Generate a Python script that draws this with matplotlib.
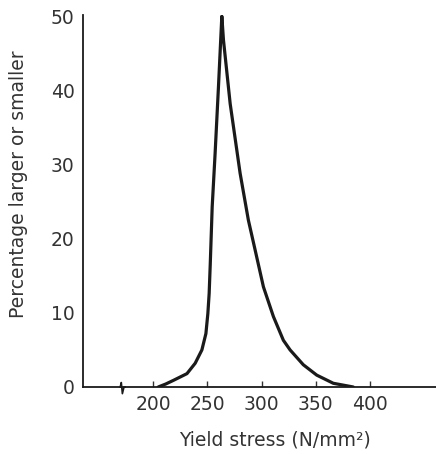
import matplotlib.pyplot as plt

# yield stress distribution
stress = [204.6, 211.5, 218.7, 231.1, 238.7, 244.9, 248.6, 250.4, 251.6, 252.6, 254.4, 257.1, 260.2, 263.3,
          264.8, 271.0, 280.2, 287.8, 294.0, 301.7, 310.9, 320.1, 326.3, 338.5, 350.9, 366.2, 384.6]
percent = [0, 0.4, 0.9, 1.8, 3.2, 5.0, 7.2, 9.9, 12.6, 16.5, 24.3, 31.5, 40.5, 50,
           46.8, 38.2, 28.8, 22.5, 18.5, 13.5, 9.5, 6.3, 5.0, 3.0, 1.6, 0.5, 0]
xticks = [200, 250, 300, 350, 400]
yticks = [0, 10, 20, 30, 40, 50]

plt.rcParams['font.family'] = ['DejaVu Sans']

fig = plt.figure(figsize=(4.36, 4.54), dpi=100)
ax = fig.add_axes([0.19, 0.1476, 0.81, 0.82])

ax.plot(stress, percent, color='#1a1a1a', lw=2.3, solid_joinstyle='round', solid_capstyle='round')

ax.set_xlim(135, 461)
ax.set_ylim(0, 50.2)
ax.set_xticks(xticks)
ax.set_yticks(yticks)
ax.tick_params(axis='x', direction='in', length=4, width=1, pad=6, labelsize=13.5, colors='#333333')
ax.tick_params(axis='y', length=0, pad=6, labelsize=13.5, colors='#333333')

for side in ['top', 'right']:
    ax.spines[side].set_visible(False)
for side in ['left', 'bottom']:
    ax.spines[side].set_linewidth(1.3)
    ax.spines[side].set_color('#1a1a1a')

# axis break mark
ax.plot([169.5, 170.5, 171.5, 173.0, 174.0], [0, 0.6, -0.9, 0, 0], color='#1a1a1a', lw=1.2, clip_on=False)

ax.set_xlabel('Yield stress (N/mm²)', fontsize=13.5, color='#333333')
ax.set_ylabel('Percentage larger or smaller', fontsize=13.5, color='#333333')
ax.xaxis.set_label_coords(0.544, -0.118)
ax.yaxis.set_label_coords(-0.155, 0.545)

fig.savefig('out.png', dpi=100)
